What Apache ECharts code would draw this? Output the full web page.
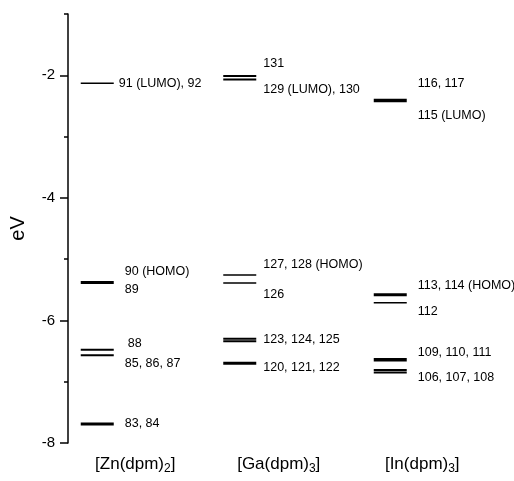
<!DOCTYPE html>
<html>
<head>
<meta charset="utf-8">
<script src="https://cdn.jsdelivr.net/npm/echarts@6/dist/echarts.min.js"></script>
<style>html,body{margin:0;padding:0;background:#fff;}#chart{width:514px;height:481px;}</style>
</head>
<body>
<div id="chart"></div>
<script>
// ---- data ----
const compounds = ['[Zn(dpm)2]', '[Ga(dpm)3]', '[In(dpm)3]'];
const yTickValues = [-8, -6, -4, -2];
const yMinorValues = [-7, -5, -3, -1];

const znLevels = [-2.13, -5.38, -6.48, -6.57, -7.69];
const gaLevels = [-2.01, -2.07, -5.26, -5.39, -6.30, -6.34, -6.70];
const inLevels = [-2.41, -5.58, -5.71, -6.64, -6.81, -6.85];

const znLabels = ['91 (LUMO), 92', '90 (HOMO)', '89', '88', '85, 86, 87', '83, 84'];
const znLabelE = [-2.13, -5.21, -5.50, -6.38, -6.70, -7.69];
const gaLabels = ['131', '129 (LUMO), 130', '127, 128 (HOMO)', '126', '123, 124, 125', '120, 121, 122'];
const gaLabelE = [-1.81, -2.23, -5.09, -5.57, -6.32, -6.77];
const inLabels = ['116, 117', '115 (LUMO)', '113, 114 (HOMO)', '112', '109, 110, 111', '106, 107, 108'];
const inLabelE = [-2.13, -2.66, -5.43, -5.85, -6.53, -6.94];

// ---- styles / layout ----
const levelWidths = [
  [1.5, 3, 2, 2, 3],
  [2, 2, 1.5, 1.5, 2, 2, 3],
  [3.5, 3, 1.5, 3.5, 2, 2]
];
const lineDx = [-59, -60, -53];     // line start offset from category centre (px)
const lineLen = 33;
const labelDx = [
  [5, 11, 11, 14, 11, 11],
  [7, 7, 7, 7, 7, 7],
  [11, 11, 11, 11, 11, 11]
];
const FONT = '"Liberation Sans", Arial, sans-serif';

const levelSets = [znLevels, gaLevels, inLevels];
const labelSets = [znLabels, gaLabels, inLabels];
const labelESets = [znLabelE, gaLabelE, inLabelE];

const levelData = [], levelW = [], labelData = [], labelText = [], labelOff = [];
levelSets.forEach((arr, ci) => arr.forEach((e, i) => {
  levelData.push([ci, e]); levelW.push(levelWidths[ci][i]);
}));
labelSets.forEach((arr, ci) => arr.forEach((t, i) => {
  labelData.push([ci, labelESets[ci][i]]); labelText.push(t); labelOff.push(labelDx[ci][i]);
}));

const chart = echarts.init(document.getElementById('chart'), null, {renderer: 'canvas'});
chart.setOption({
  animation: false,
  backgroundColor: '#fff',
  grid: {left: 68, top: 14, bottom: 38, width: 430.5},
  xAxis: {
    type: 'category',
    data: compounds,
    axisLine: {show: false},
    axisTick: {show: false},
    axisLabel: {
      interval: 0,
      hideOverlap: false,
      margin: 11,
      color: '#000',
      fontSize: 17,
      fontFamily: FONT,
      formatter: v => v.replace(/\)(\d)\]/, '){sub|$1}]'),
      padding: [0, 9, 0, 0],
      rich: {sub: {fontSize: 12, fontFamily: FONT, color: '#000', padding: [9, 0, 0, 0]}}
    },
    splitLine: {show: false}
  },
  yAxis: [{
    type: 'value', min: -8, max: -1, interval: 1,
    name: 'eV', nameLocation: 'middle', nameGap: 40,
    nameTextStyle: {fontSize: 20, fontFamily: FONT, color: '#000'},
    axisLine: {show: true, lineStyle: {color: '#000', width: 1.5}},
    axisTick: {show: true, length: 8, lineStyle: {color: '#000', width: 1.5}, customValues: yTickValues},
    axisLabel: {color: '#000', fontSize: 15, fontFamily: FONT, margin: 13, customValues: yTickValues},
    splitLine: {show: false}
  }, {
    type: 'value', min: -8, max: -1, interval: 1, position: 'left',
    axisLine: {show: false},
    axisTick: {show: true, length: 4, lineStyle: {color: '#000', width: 1.5}, customValues: yMinorValues},
    axisLabel: {show: false},
    splitLine: {show: false}
  }],
  series: [{
    type: 'custom',
    data: levelData,
    clip: false,
    renderItem: (params, api) => {
      const ci = api.value(0);
      const c = api.coord([ci, api.value(1)]);
      const x0 = c[0] + lineDx[ci];
      return {type: 'line', shape: {x1: x0, y1: c[1], x2: x0 + lineLen, y2: c[1]},
        style: {stroke: '#000', lineWidth: levelW[params.dataIndex]}};
    }
  }, {
    type: 'custom',
    data: labelData,
    clip: false,
    renderItem: (params, api) => {
      const ci = api.value(0);
      const c = api.coord([ci, api.value(1)]);
      const x = c[0] + lineDx[ci] + lineLen + labelOff[params.dataIndex];
      return {type: 'text', x: x, y: c[1],
        style: {text: labelText[params.dataIndex], fill: '#000', font: '12.5px ' + FONT,
          align: 'left', verticalAlign: 'middle'}};
    }
  }]
});
</script>
</body>
</html>
